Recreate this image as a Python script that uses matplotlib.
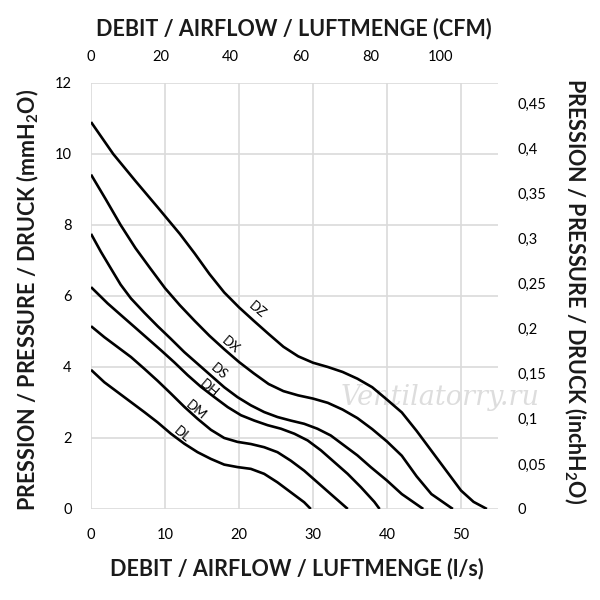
import numpy as np
import matplotlib
matplotlib.use("Agg")
import matplotlib.pyplot as plt
from matplotlib.ticker import FuncFormatter

plt.rcParams['font.family'] = ['Lato', 'DejaVu Sans']
plt.rcParams['mathtext.default'] = 'regular'

# Fan curves: airflow (l/s) vs static pressure (mmH2O)
DZ_q = [0, 3, 6, 9, 12, 14, 16, 18, 20, 22, 24, 26, 28, 30, 32, 34, 36, 38, 40, 42, 44, 46, 48, 50, 51.7, 53.5]
DZ_p = [10.9, 10.0, 9.24, 8.5, 7.75, 7.2, 6.62, 6.1, 5.68, 5.3, 4.93, 4.57, 4.3, 4.12, 4.0, 3.86, 3.67, 3.43, 3.08, 2.72, 2.2, 1.64, 1.08, 0.52, 0.2, 0]

DX_q = [0, 2, 4, 6, 8, 10, 12, 14, 16, 18, 20, 22, 24, 26, 28, 30, 32, 34, 36, 38, 40, 42, 44, 46, 48.9]
DX_p = [9.42, 8.72, 8.0, 7.35, 6.78, 6.22, 5.74, 5.3, 4.88, 4.5, 4.14, 3.82, 3.52, 3.32, 3.2, 3.11, 2.99, 2.8, 2.56, 2.25, 1.9, 1.5, 0.92, 0.42, 0]

DS_q = [0, 1.35, 2.7, 4, 5.4, 7.2, 9, 10.8, 12.6, 14.4, 16.2, 18, 19.8, 21.6, 23.4, 25.2, 27, 28.8, 30.6, 32.4, 34.2, 36, 37.8, 40, 42, 44.9]
DS_p = [7.75, 7.24, 6.77, 6.32, 5.93, 5.53, 5.15, 4.79, 4.42, 4.09, 3.76, 3.43, 3.15, 2.92, 2.73, 2.59, 2.49, 2.4, 2.26, 2.07, 1.79, 1.51, 1.18, 0.8, 0.42, 0]

DH_q = [0, 2.25, 4.05, 5.86, 7.66, 9.46, 11.26, 13.06, 14.86, 16.67, 18.47, 20.27, 22.07, 23.87, 25.68, 27.48, 29.28, 31.08, 32.88, 34.68, 36.49, 38.29, 39.0]
DH_p = [6.25, 5.79, 5.46, 5.13, 4.8, 4.47, 4.13, 3.77, 3.44, 3.15, 2.87, 2.64, 2.49, 2.36, 2.26, 2.12, 1.93, 1.65, 1.32, 0.99, 0.61, 0.2, 0]

DM_q = [0, 1.8, 3.6, 5.4, 7.2, 9, 10.8, 12.6, 14.4, 16.2, 18, 19.8, 21.6, 23.4, 25.2, 27, 28.8, 30.6, 32.4, 34.7]
DM_p = [5.15, 4.84, 4.56, 4.28, 3.95, 3.61, 3.25, 2.88, 2.54, 2.23, 2.0, 1.89, 1.83, 1.74, 1.6, 1.36, 1.08, 0.75, 0.42, 0]

DL_q = [0, 1.8, 3.6, 5.4, 7.2, 9, 10.8, 12.6, 14.4, 16.2, 18, 19.8, 21.6, 23.4, 25.2, 27, 28.8, 29.7]
DL_p = [3.92, 3.57, 3.29, 3.01, 2.73, 2.44, 2.12, 1.84, 1.6, 1.41, 1.25, 1.18, 1.13, 0.99, 0.75, 0.47, 0.19, 0]

curve_names = ['DZ', 'DX', 'DS', 'DH', 'DM', 'DL']
label_q = [22.4, 18.8, 17.3, 15.9, 14.2, 12.3]
label_p = [5.6, 4.62, 3.87, 3.4, 2.77, 2.09]

LS_TO_CFM = 2.11888
MM_TO_INCH = 1 / 25.4

fig = plt.figure(figsize=(6, 6), dpi=100)
ax = fig.add_axes([0.1517, 0.1517, 0.6783, 0.71])

curves = [(DZ_q, DZ_p), (DX_q, DX_p), (DS_q, DS_p), (DH_q, DH_p), (DM_q, DM_p), (DL_q, DL_p)]
for q, p in curves:
    ax.plot(q, p, color='black', linewidth=1.9, solid_joinstyle='round',
            solid_capstyle='butt', zorder=3)

for name, lq, lp in zip(curve_names, label_q, label_p):
    ax.text(lq, lp, name, rotation=-40, ha='center', va='center', fontsize=9.5, zorder=4)

# watermark
ax.text(47.2, 3.15, 'Ventilatorry.ru', family='DejaVu Serif', style='italic',
        fontsize=19.5, color='#dddddd', ha='center', va='center', zorder=2)

ax.set_xlim(0, 55)
ax.set_ylim(0, 12)
ax.set_xticks(np.arange(0, 51, 10))
ax.set_yticks(np.arange(0, 13, 2))
ax.grid(True, color='#dadada', linewidth=1.2, zorder=0)
ax.set_axisbelow(True)
for s in ax.spines.values():
    s.set_visible(False)
ax.tick_params(length=0, labelsize=10.5, pad=14)

# secondary scales
top = ax.secondary_xaxis('top', functions=(lambda x: x * LS_TO_CFM, lambda x: x / LS_TO_CFM))
top.set_xticks(np.arange(0, 101, 20))
top.tick_params(length=0, labelsize=10.5, pad=14)
top.spines['top'].set_visible(False)

right = ax.secondary_yaxis('right', functions=(lambda y: y * MM_TO_INCH, lambda y: y / MM_TO_INCH))
right.set_yticks(np.arange(0, 0.46, 0.05))
right.yaxis.set_major_formatter(FuncFormatter(lambda v, pos: f'{round(v, 2):g}'.replace('.', ',')))
right.tick_params(length=0, labelsize=10.5, pad=14)
right.spines['right'].set_visible(False)

title_kw = dict(fontsize=15.5, fontweight='bold', color='#1a1a1a')
fig.text(0.49, 0.952, 'DEBIT / AIRFLOW / LUFTMENGE (CFM)', ha='center', va='center', **title_kw)
fig.text(0.495, 0.053, 'DEBIT / AIRFLOW / LUFTMENGE (l/s)', ha='center', va='center', **title_kw)
fig.text(0.047, 0.50, 'PRESSION / PRESSURE / DRUCK (mmH$_2$O)', rotation=90, ha='center', va='center', **title_kw)
fig.text(0.958, 0.515, 'PRESSION / PRESSURE / DRUCK (inchH$_2$O)', rotation=-90, ha='center', va='center', **title_kw)

fig.savefig('out.png', dpi=100, facecolor='white')
